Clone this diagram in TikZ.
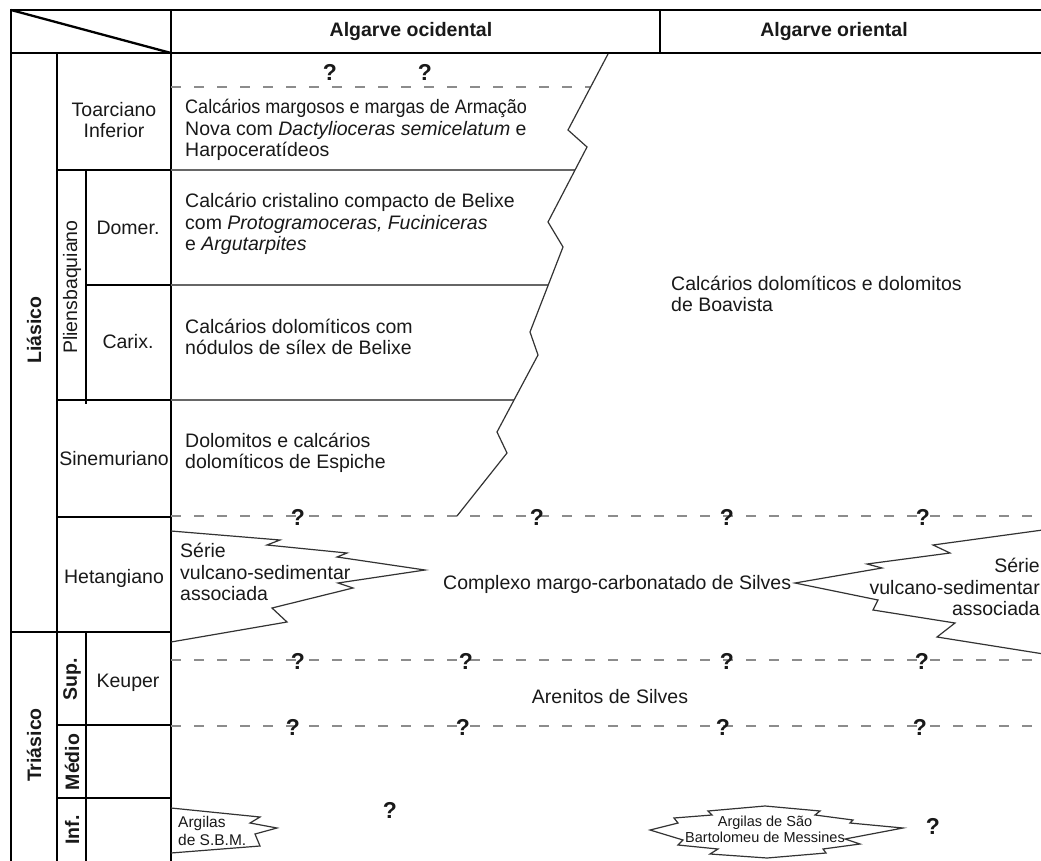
\documentclass[tikz,border=0pt]{standalone}
\usepackage{fontspec}
\setmainfont{Liberation Sans}
\begin{document}
\begin{tikzpicture}[x=1pt,y=-1pt,
  frame/.style={line width=2.8pt, black, line cap=rect},
  layer/.style={line width=1.2pt, black!60},
  dashline/.style={line width=1.2pt, black!45, dash pattern=on 10pt off 13pt},
  zig/.style={line width=1.2pt, black!80, line join=miter},
  txt/.style={font=\fontsize{19.5}{21.5}\selectfont, inner sep=0pt, align=left, text=black!90},
  ttl/.style={font=\bfseries\fontsize{19.5}{21.5}\selectfont, inner sep=0pt, text=black!90},
  qm/.style={font=\bfseries\fontsize{23}{23}\selectfont, inner sep=0pt, text=black!90},
  smalltxt/.style={font=\fontsize{15.5}{18}\selectfont, inner sep=0pt, align=left, text=black!90},
  tinytxt/.style={font=\fontsize{14.5}{16}\selectfont, inner sep=0pt, align=center, text=black!90}]
\useasboundingbox (0,0) rectangle (1041,861);
\fill[white] (0,0) rectangle (1041,861);

% ---- frame / table ----
\draw[frame] (11,10) -- (1050,10);
\draw[frame] (11,53) -- (1050,53);
\draw[frame] (11,10) -- (11,870);
\draw[frame] (171,10) -- (171,870);
\draw[frame] (660,10) -- (660,53);
\draw[frame] (57,53) -- (57,870);
\draw[line width=2.3pt] (11,10) -- (171,53);
\draw[frame] (86,170) -- (86,403);
\draw[frame] (86,632) -- (86,870);
\draw[frame] (57,170) -- (171,170);
\draw[frame] (86,285) -- (171,285);
\draw[frame] (57,400) -- (171,400);
\draw[frame] (57,517) -- (171,517);
\draw[frame] (11,632) -- (171,632);
\draw[frame] (57,725) -- (171,725);
\draw[frame] (57,798) -- (171,798);

% ---- header ----
\node[ttl] (hoc) at (411,32) {Algarve ocidental};
\node[ttl] (hor) at (834,32) {Algarve oriental};

% ---- left column ----
\node[txt, align=center] (ltoa) at (114,120) {Toarciano\\Inferior};
\node[txt] (ldom) at (128,228) {Domer.};
\node[txt] (lcar) at (128,342) {Carix.};
\node[txt] (lsin) at (114,459) {Sinemuriano};
\node[txt] (lhet) at (114,578) {Hetangiano};
\node[txt] (lkeu) at (128,683) {Keuper};
\node[txt, rotate=90] (lpli) at (72,287) {Pliensbaquiano};
\node[ttl, rotate=90] (llia) at (34,330) {Liásico};
\node[ttl, rotate=90] (ltri) at (34,745) {Triásico};
\node[ttl, rotate=90] (lsup) at (72,679) {Sup.};
\node[ttl, rotate=90] (lmed) at (72,762) {Médio};
\node[ttl, rotate=90] (linf) at (72,830) {Inf.};

% ---- layer boundaries ----
\draw[dashline] (171,87) -- (590,87);
\draw[layer] (171,170) -- (575,170);
\draw[layer] (171,285) -- (548,285);
\draw[layer] (171,400) -- (514,400);
\draw[dashline] (171,516) -- (1050,516);
\draw[dashline] (171,660) -- (1050,660);
\draw[dashline] (171,726) -- (1050,726);

% facies boundary
\draw[zig] (608,54) -- (568,130) -- (587,147) -- (548,222) -- (563,247) -- (530,332)
  -- (538,355) -- (497,432) -- (507,453) -- (457,516);

% Serie vulcano-sedimentar (west)
\draw[zig] (171,531) -- (280,540) -- (267,545) -- (347,553) -- (337,557) -- (425,570)
  -- (338,583) -- (353,588) -- (272,608) -- (287,622) -- (171,642);
% Serie vulcano-sedimentar (east)
\draw[zig] (1050,529) -- (933,545) -- (950,553) -- (867,564) -- (882,568) -- (795,583)
  -- (878,600) -- (873,610) -- (955,623) -- (937,637) -- (1050,655);
% Argilas de S.B.M. (west)
\draw[zig] (171,808) -- (260,817) -- (250,823) -- (277,828) -- (255,834) -- (260,846) -- (171,853);
% Argilas de Sao Bartolomeu de Messines (east)
\draw[zig] (650,830) -- (678,823) -- (674,818) -- (712,815) -- (708,811) -- (765,806)
  -- (820,811) -- (815,815) -- (853,820) -- (850,823) -- (903,828) -- (845,839)
  -- (860,844) -- (823,849) -- (826,853) -- (767,858) -- (710,854) -- (718,849)
  -- (678,845) -- (683,840) -- cycle;

% ---- unit texts ----
\node[txt, anchor=west] (ttoa) at (185,130) {\scalebox{0.925}[1]{Calcários margosos e margas de Armação}\\Nova com \textit{Dactylioceras semicelatum} e\\Harpoceratídeos};
\node[txt, anchor=west] (tdom) at (185,224) {Calcário cristalino compacto de Belixe\\com \textit{Protogramoceras, Fuciniceras}\\e \textit{Argutarpites}};
\node[txt, anchor=west] (tcar) at (185,337) {Calcários dolomíticos com\\nódulos de sílex de Belixe};
\node[txt, anchor=west] (tsin) at (185,453) {Dolomitos e calcários\\dolomíticos de Espiche};
\node[txt, anchor=west] (tboa) at (671,294) {Calcários dolomíticos e dolomitos\\de Boavista};
\node[txt, anchor=west] (tsv1) at (180,572) {Série\\vulcano-sedimentar\\associada};
\node[txt, anchor=east, align=right] (tsv2) at (1040,587) {Série\\vulcano-sedimentar\\associada};
\node[txt, anchor=west] (tcmx) at (443,584) {Complexo margo-carbonatado de Silves};
\node[txt] (tare) at (610,697) {Arenitos de Silves};
\node[smalltxt, anchor=west] (tsbm1) at (178,831) {Argilas\\de S.B.M.};
\node[tinytxt] (tsbm2) at (765,829) {Argilas de São\\Bartolomeu de Messines};

% ---- question marks ----
\node[qm] (q1) at (330,72) {?};
\node[qm] (q2) at (425,72) {?};
\node[qm] (q3) at (298,517) {?};
\node[qm] (q4) at (537,517) {?};
\node[qm] (q5) at (727,517) {?};
\node[qm] (q6) at (923,517) {?};
\node[qm] (q7) at (298,661) {?};
\node[qm] (q8) at (466,661) {?};
\node[qm] (q9) at (727,661) {?};
\node[qm] (q10) at (922,661) {?};
\node[qm] (q11) at (293,727) {?};
\node[qm] (q12) at (463,727) {?};
\node[qm] (q13) at (723,727) {?};
\node[qm] (q14) at (920,727) {?};
\node[qm] (q15) at (390,810) {?};
\node[qm] (q16) at (933,826) {?};
\end{tikzpicture}
\end{document}
